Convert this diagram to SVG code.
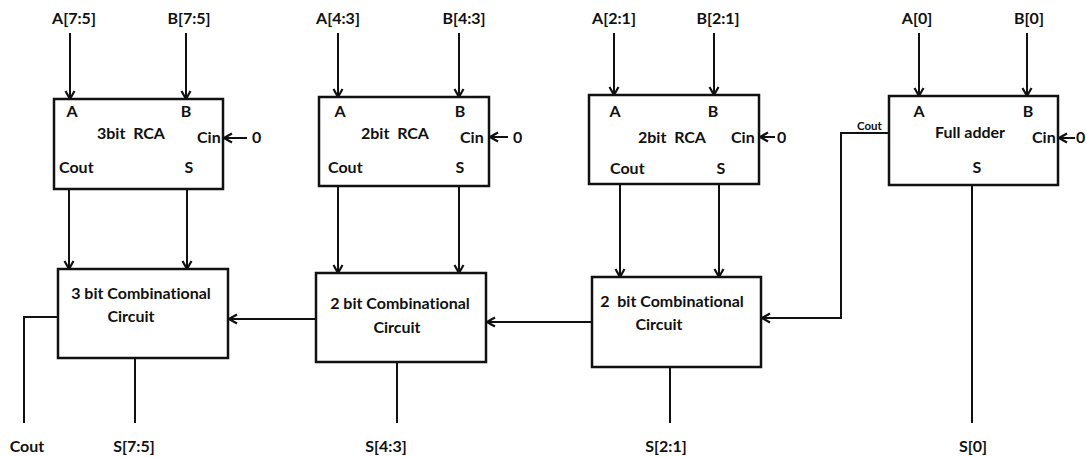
<svg xmlns="http://www.w3.org/2000/svg" width="1086" height="457" viewBox="0 0 1086 457">
<style>
text{font-family:Lato,"Open Sans","Liberation Sans",sans-serif;font-weight:bold;fill:#111;font-size:16px;font-variant-ligatures:none}
.m{text-anchor:middle}
.box{fill:#fff;stroke:#111;stroke-width:2.5}
.w{fill:none;stroke:#111;stroke-width:2}
.a{marker-end:url(#ah)}
.sm{font-size:11.5px}
</style>
<defs>
<marker id="ah" markerUnits="userSpaceOnUse" markerWidth="12" markerHeight="12" viewBox="0 0 12 12" refX="11" refY="6" orient="auto">
<path d="M3,1.5 L11,6 L3,10.5" fill="none" stroke="#111" stroke-width="2.2"/>
</marker>
</defs>
<rect width="1086" height="457" fill="#fff"/>

<g id="connectors">
<line class="w a" x1="70" y1="33" x2="70" y2="99"/>
<line class="w a" x1="186" y1="33" x2="186" y2="99"/>
<line class="w a" x1="338" y1="33" x2="338" y2="97"/>
<line class="w a" x1="459" y1="33" x2="459" y2="97"/>
<line class="w a" x1="614" y1="33" x2="614" y2="95"/>
<line class="w a" x1="714" y1="33" x2="714" y2="95"/>
<line class="w a" x1="919" y1="33" x2="919" y2="96"/>
<line class="w a" x1="1027" y1="33" x2="1027" y2="96"/>
<line class="w a" x1="247" y1="138" x2="224" y2="138"/>
<line class="w a" x1="508" y1="137" x2="490" y2="137"/>
<line class="w a" x1="775" y1="137" x2="760" y2="137"/>
<line class="w a" x1="1075" y1="138" x2="1059" y2="138"/>
<line class="w a" x1="69" y1="189" x2="69" y2="269"/>
<line class="w a" x1="187" y1="189" x2="187" y2="269"/>
<line class="w a" x1="338" y1="186" x2="338" y2="273"/>
<line class="w a" x1="459" y1="186" x2="459" y2="273"/>
<line class="w a" x1="620" y1="184" x2="620" y2="277"/>
<line class="w a" x1="719" y1="184" x2="719" y2="277"/>
<polyline class="w a" points="889,133 841,133 841,318 762,318"/>
<line class="w a" x1="592" y1="322" x2="487" y2="322"/>
<line class="w a" x1="316" y1="319" x2="229" y2="319"/>
<polyline class="w" points="58,317 24,317 24,423"/>
<line class="w" x1="135" y1="358" x2="135" y2="423"/>
<line class="w" x1="397" y1="362" x2="397" y2="423"/>
<line class="w" x1="670" y1="367" x2="670" y2="423"/>
<line class="w" x1="972" y1="185" x2="972" y2="423"/>
</g>

<g id="rca1">
<rect class="box" x="54" y="99" width="169" height="90"/>
<text class="m" x="72" y="117">A</text>
<text class="m" x="186" y="117">B</text>
<text class="m" x="131" y="139" xml:space="preserve">3bit  RCA</text>
<text x="197" y="143">Cin</text>
<text x="59" y="173">Cout</text>
<text class="m" x="189" y="173">S</text>
</g>
<g id="rca2">
<rect class="box" x="319" y="97" width="170" height="89"/>
<text class="m" x="340" y="117">A</text>
<text class="m" x="460" y="117">B</text>
<text class="m" x="395" y="139" xml:space="preserve">2bit  RCA</text>
<text x="460" y="143">Cin</text>
<text x="328" y="173">Cout</text>
<text class="m" x="460" y="173">S</text>
</g>
<g id="rca3">
<rect class="box" x="589" y="95" width="170" height="89"/>
<text class="m" x="615" y="117">A</text>
<text class="m" x="713" y="117">B</text>
<text class="m" x="672" y="143" xml:space="preserve">2bit  RCA</text>
<text x="731" y="143">Cin</text>
<text x="610" y="174">Cout</text>
<text class="m" x="721" y="174">S</text>
</g>
<g id="fa">
<rect class="box" x="889" y="96" width="169" height="89"/>
<text class="m" x="919" y="117">A</text>
<text class="m" x="1028" y="117">B</text>
<text class="m" x="970" y="138">Full adder</text>
<text x="1032" y="143">Cin</text>
<text class="m" x="977" y="173">S</text>
<text class="sm" x="857" y="130">Cout</text>
</g>
<g id="cc1">
<rect class="box" x="58" y="269" width="170" height="89"/>
<text class="m" x="141" y="299">3 bit Combinational</text>
<text class="m" x="131" y="322">Circuit</text>
</g>
<g id="cc2">
<rect class="box" x="316" y="273" width="170" height="89"/>
<text class="m" x="400" y="309">2 bit Combinational</text>
<text class="m" x="397" y="333">Circuit</text>
</g>
<g id="cc3">
<rect class="box" x="592" y="277" width="169" height="90"/>
<text class="m" x="672" y="307" xml:space="preserve">2  bit Combinational</text>
<text class="m" x="659" y="330">Circuit</text>
</g>

<g id="labels">
<text class="m" x="74" y="24">A[7:5]</text>
<text class="m" x="189" y="24">B[7:5]</text>
<text class="m" x="338" y="24">A[4:3]</text>
<text class="m" x="464" y="24">B[4:3]</text>
<text class="m" x="614" y="24">A[2:1]</text>
<text class="m" x="718" y="24">B[2:1]</text>
<text class="m" x="917" y="24">A[0]</text>
<text class="m" x="1029" y="24">B[0]</text>
<text x="252" y="143">0</text>
<text x="513" y="143">0</text>
<text x="777" y="143">0</text>
<text x="1076" y="143">0</text>
<text class="m" x="27" y="452">Cout</text>
<text class="m" x="134" y="452">S[7:5]</text>
<text class="m" x="386" y="452">S[4:3]</text>
<text class="m" x="666" y="452">S[2:1]</text>
<text class="m" x="973" y="452">S[0]</text>
</g>
</svg>
